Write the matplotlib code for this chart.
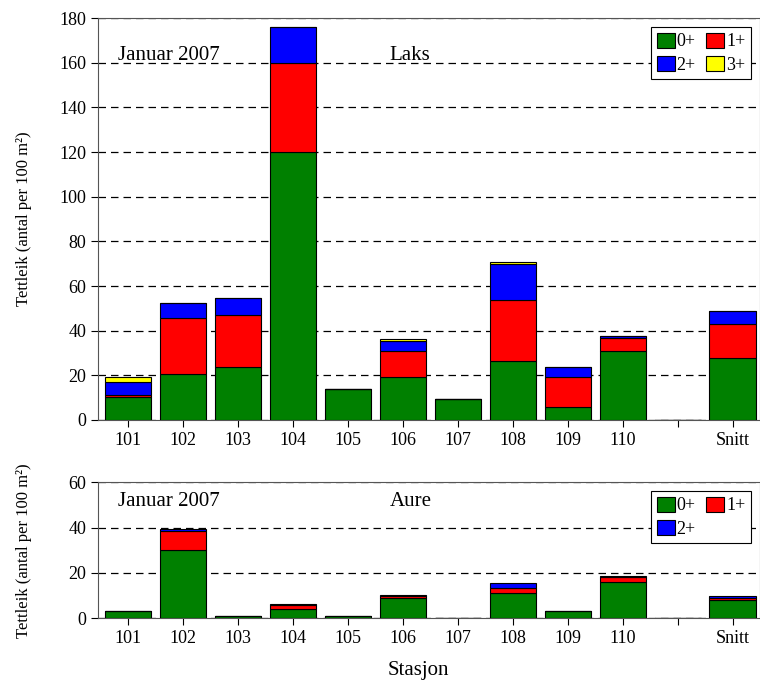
import numpy as np
import matplotlib.pyplot as plt

plt.rcParams['font.family'] = ['Liberation Serif', 'DejaVu Serif']

stations = ['101', '102', '103', '104', '105', '106', '107', '108', '109', '110', '', 'Snitt']

# Laks (segment sizes)
laks_0 = [10.4, 20.4, 23.9, 120, 13.7, 19.4, 9.3, 26.4, 6.0, 31.0, 0, 27.9]
laks_1 = [0.8, 25.3, 23.0, 40, 0, 11.5, 0, 27.3, 13.4, 5.9, 0, 14.9]
laks_2 = [5.8, 6.8, 7.9, 16, 0, 4.6, 0, 16.4, 4.5, 0.7, 0, 6.2]
laks_3 = [2.3, 0, 0, 0, 0, 0.6, 0, 0.5, 0, 0, 0, 0]

# Aure
aure_0 = [3.2, 30.1, 1.0, 3.9, 1.0, 9.1, 0.2, 11.2, 3.2, 16.1, 0, 7.8]
aure_1 = [0, 8.4, 0, 2.0, 0, 0.8, 0, 2.0, 0, 2.0, 0, 1.2]
aure_2 = [0, 0.8, 0, 0.3, 0, 0.4, 0, 2.2, 0, 0.3, 0, 0.7]

colors = ['#008000', '#ff0000', '#0000ff', '#ffff00']
x = np.arange(len(stations))

fig = plt.figure(figsize=(7.6, 7.0), dpi=100)
ax1 = fig.add_axes([0.129, 0.4, 0.871, 0.574])
ax2 = fig.add_axes([0.129, 0.117, 0.871, 0.194])


def stack(ax, series, labels):
    bottom = np.zeros(len(x))
    for vals, c, lab in zip(series, colors, labels):
        vals = np.array(vals)
        ax.bar(x, vals, bottom=bottom, width=0.84, color=c, edgecolor='black',
               linewidth=0.8, label=lab, zorder=3)
        bottom += vals


stack(ax1, [laks_0, laks_1, laks_2, laks_3], ['0+', '1+', '2+', '3+'])
stack(ax2, [aure_0, aure_1, aure_2], ['0+', '1+', '2+'])

for ax, top, step, title, order in [(ax1, 180, 20, 'Laks', [0, 2, 1, 3]),
                                    (ax2, 60, 20, 'Aure', [0, 2, 1])]:
    ax.set_xlim(-0.55, 11.5)
    ax.set_ylim(0, top)
    ax.set_yticks(np.arange(0, top + 1, step))
    ax.set_xticks(x)
    ax.set_xticklabels(stations)
    ax.yaxis.grid(True, linestyle=(0, (6, 4)), color='black', linewidth=0.9, zorder=0)
    ax.tick_params(labelsize=13, direction='out', length=5)
    ax.set_ylabel('Tettleik (antal per 100 m²)', fontsize=12)
    ax.text(0.03, 0.93, 'Januar 2007', transform=ax.transAxes, fontsize=15, va='top')
    ax.text(0.44, 0.93, title, transform=ax.transAxes, fontsize=15, va='top')
    h, l = ax.get_legend_handles_labels()
    leg = ax.legend([h[i] for i in order], [l[i] for i in order],
                    loc='upper right', ncol=2, fontsize=13, handlelength=1.0,
                    handleheight=0.9, handletextpad=0.1, columnspacing=0.6,
                    borderpad=0.3, labelspacing=0.3, fancybox=False,
                    edgecolor='black', framealpha=1)
    leg.get_frame().set_linewidth(0.8)
    for s in ax.spines.values():
        s.set_color('#555555')

ax1.yaxis.set_label_coords(-0.1, 0.5)
ax2.yaxis.set_label_coords(-0.1, 0.5)
fig.text(0.55, 0.035, 'Stasjon', ha='center', fontsize=15)

fig.savefig('out.png', dpi=100)
